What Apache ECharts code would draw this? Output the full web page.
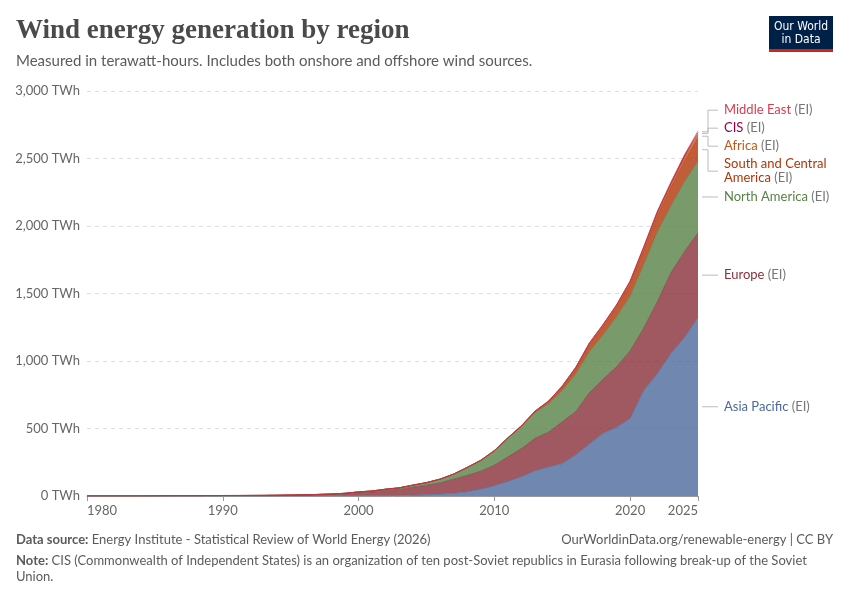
<!DOCTYPE html>
<html>
<head>
<meta charset="utf-8">
<title>Wind energy generation by region</title>
<script src="https://cdn.jsdelivr.net/npm/echarts@6.0.0/dist/echarts.min.js"></script>
<style>
  html, body { margin: 0; padding: 0; background: #fff; }
  #chart { width: 850px; height: 600px; }
</style>
</head>
<body>
<div id="chart"></div>
<script>
// years 1980 - 2025
const years = [];
for (let y = 1980; y <= 2025; y++) years.push(String(y));

// TWh
const asiaPacific = [
  0, 0, 0, 0, 0, 0, 0, 0, 0, 0,
  0.02, 0.03, 0.05, 0.1, 0.2, 0.4, 0.7, 1.0, 1.5, 1.9,
  2.6, 3.2, 3.8, 4.6, 6.5, 9, 14, 20, 32, 50,
  76, 108, 143, 187, 215, 240, 305, 385, 464, 509,
  575, 781, 907, 1055, 1175, 1322
];
const europe = [
  0.01, 0.01, 0.02, 0.03, 0.06, 0.1, 0.2, 0.3, 0.4, 0.6,
  0.8, 1.0, 1.3, 1.7, 2.4, 3.9, 5.0, 7.3, 10.5, 13.5,
  22, 27, 36, 44, 59, 71, 82, 105, 120, 134,
  152, 182, 208, 240, 258, 310, 320, 380, 400, 448,
  500, 462, 532, 598, 635, 628
];
const northAmerica = [
  0, 0.01, 0.02, 0.05, 0.2, 0.6, 1.4, 1.7, 1.8, 2.1,
  2.8, 2.9, 2.9, 3.0, 3.4, 3.2, 3.4, 3.3, 3.0, 4.6,
  5.7, 6.8, 10.5, 11.6, 14.6, 18.5, 28, 36, 58, 78,
  104, 136, 162, 190, 211, 230, 279, 304, 328, 370,
  405, 470, 515, 495, 518, 530
];
const southCentralAmerica = [
  0, 0, 0, 0, 0, 0, 0, 0, 0, 0,
  0, 0, 0, 0, 0.01, 0.01, 0.02, 0.03, 0.04, 0.05,
  0.1, 0.1, 0.1, 0.2, 0.2, 0.3, 0.5, 0.8, 1.1, 1.5,
  2.6, 3.4, 6, 8.5, 15, 27, 40, 52, 63, 71,
  90, 105, 120, 135, 152, 170
];
const africa = [
  0, 0, 0, 0, 0, 0, 0, 0, 0, 0,
  0, 0, 0, 0, 0, 0, 0, 0.01, 0.02, 0.05,
  0.2, 0.3, 0.4, 0.5, 0.6, 0.7, 0.8, 1.0, 1.2, 1.6,
  2.1, 2.3, 2.5, 3.0, 4.5, 7, 9, 11, 13, 16,
  19, 21, 24, 26, 28, 30
];
const cis = [
  0, 0, 0, 0, 0, 0, 0, 0, 0, 0,
  0, 0, 0, 0, 0, 0, 0, 0, 0, 0,
  0, 0, 0, 0, 0, 0.01, 0.01, 0.01, 0.01, 0.01,
  0.01, 0.01, 0.01, 0.01, 0.02, 0.1, 0.1, 0.2, 0.3, 0.5,
  1.5, 4, 6, 8, 10, 12
];
const middleEast = [
  0, 0, 0, 0, 0, 0, 0, 0, 0, 0,
  0, 0, 0, 0, 0, 0, 0, 0, 0, 0,
  0.02, 0.02, 0.03, 0.03, 0.04, 0.05, 0.05, 0.06, 0.08, 0.1,
  0.1, 0.1, 0.2, 0.2, 0.3, 0.5, 0.6, 0.7, 1.0, 1.5,
  2.5, 3.5, 5, 7, 9, 12
];

const yTicks = [0, 500, 1000, 1500, 2000, 2500, 3000];
const xTickYears = ['1980', '1990', '2000', '2010', '2020', '2025'];

// bottom of the stack first
const regions = [
  { name: 'Asia Pacific', label: 'Asia Pacific', data: asiaPacific, color: '#4C6A9C' },
  { name: 'Europe', label: 'Europe', data: europe, color: '#883039' },
  { name: 'North America', label: 'North America', data: northAmerica, color: '#578145' },
  { name: 'South and Central America', label: 'South and Central\nAmerica', data: southCentralAmerica, color: '#B13507' },
  { name: 'Africa', label: 'Africa', data: africa, color: '#C05917' },
  { name: 'CIS', label: 'CIS', data: cis, color: '#970046' },
  { name: 'Middle East', label: 'Middle East', data: middleEast, color: '#D73C50' }
];

const FONT = 'Lato, "Noto Sans", sans-serif';
const chart = echarts.init(document.getElementById('chart'), null, { renderer: 'canvas' });

const gridLeft = 87, gridRight = 152, gridTop = 91, gridBottom = 104;
const isTickYear = (i, v) => xTickYears.indexOf(String(v)) >= 0;

const option = {
  animation: false,
  backgroundColor: '#fff',
  grid: { left: gridLeft, right: gridRight, top: gridTop, bottom: gridBottom, containLabel: false },
  xAxis: {
    type: 'category',
    data: years,
    boundaryGap: false,
    axisLine: { show: true, lineStyle: { color: '#999', width: 1 } },
    axisTick: { show: true, interval: isTickYear, length: 5, lineStyle: { color: '#999' } },
    axisLabel: {
      interval: isTickYear,
      color: '#666',
      fontFamily: FONT,
      fontSize: 13,
      margin: 8,
      alignMinLabel: 'left',
      alignMaxLabel: 'right'
    },
    splitLine: { show: false }
  },
  yAxis: {
    type: 'value',
    min: yTicks[0],
    max: yTicks[yTicks.length - 1],
    interval: 500,
    axisLine: { show: false },
    axisTick: { show: false },
    axisLabel: {
      color: '#666',
      fontFamily: FONT,
      fontSize: 13,
      margin: 7,
      formatter: v => v.toLocaleString('en-US') + ' TWh'
    },
    splitLine: { show: true, lineStyle: { color: '#dddddd', type: [4, 4], width: 1 } }
  },
  series: regions.map(r => ({
    name: r.name,
    type: 'line',
    stack: 'total',
    data: r.data,
    showSymbol: false,
    symbol: 'none',
    lineStyle: { width: 0.6, color: r.color },
    areaStyle: { color: r.color, opacity: 0.8 },
    emphasis: { disabled: true },
    z: 2
  })),
  graphic: [
    {
      type: 'text', x: 16, y: 31,
      style: {
        text: 'Wind energy generation by region',
        fill: '#4a4a4a',
        font: 'bold 27px "Liberation Serif", "DejaVu Serif", serif',
        verticalAlign: 'middle'
      }
    },
    {
      type: 'text', x: 16, y: 61,
      style: {
        text: 'Measured in terawatt-hours. Includes both onshore and offshore wind sources.',
        fill: '#5b5b5b',
        font: '15px ' + FONT,
        verticalAlign: 'middle'
      }
    },
    // logo
    { type: 'rect', shape: { x: 769, y: 16, width: 64, height: 36 }, style: { fill: '#002147' } },
    { type: 'rect', shape: { x: 769, y: 49, width: 64, height: 3 }, style: { fill: '#ce261e' } },
    {
      type: 'text', x: 801, y: 27,
      style: { text: 'Our World', fill: '#fff', font: '12px "Liberation Sans Narrow", "DejaVu Sans Condensed", ' + FONT, align: 'center', verticalAlign: 'middle' }
    },
    {
      type: 'text', x: 801, y: 40,
      style: { text: 'in Data', fill: '#fff', font: '12px "Liberation Sans Narrow", "DejaVu Sans Condensed", ' + FONT, align: 'center', verticalAlign: 'middle' }
    },
    // footer
    {
      type: 'text', x: 16, y: 540,
      style: {
        text: '{b|Data source:} {r|Energy Institute - Statistical Review of World Energy (2026)}',
        verticalAlign: 'middle',
        rich: {
          b: { fontFamily: FONT, fontSize: 13, fontWeight: 'bold', fill: '#5b5b5b' },
          r: { fontFamily: FONT, fontSize: 13, fill: '#5b5b5b' }
        }
      }
    },
    {
      type: 'text', x: 833, y: 540,
      style: {
        text: 'OurWorldinData.org/renewable-energy | CC BY',
        fill: '#5b5b5b', font: '13px ' + FONT, align: 'right', verticalAlign: 'middle'
      }
    },
    {
      type: 'text', x: 16, y: 561,
      style: {
        text: '{b|Note:} {r|CIS (Commonwealth of Independent States) is an organization of ten post-Soviet republics in Eurasia following break-up of the Soviet}',
        verticalAlign: 'middle',
        rich: {
          b: { fontFamily: FONT, fontSize: 13, fontWeight: 'bold', fill: '#5b5b5b' },
          r: { fontFamily: FONT, fontSize: 13, fill: '#5b5b5b' }
        }
      }
    },
    {
      type: 'text', x: 16, y: 577,
      style: { text: 'Union.', fill: '#5b5b5b', font: '13px ' + FONT, verticalAlign: 'middle' }
    }
  ]
};

chart.setOption(option);

// right-hand labels, placed at the middle of each band at the last year
function placeLabels() {
  const last = years.length - 1;
  const lineH = 14, gap = 4, groupShift = 4;
  let cum = 0;
  const items = regions.map(r => {
    const v = r.data[last];
    const mid = cum + v / 2;
    cum += v;
    const py = chart.convertToPixel({ gridIndex: 0 }, [last, mid])[1];
    const lines = r.label.split('\n').length;
    return { r, target: py, h: lines * lineH, lines };
  }).sort((a, b) => a.target - b.target);

  // merge overlapping labels into groups centred on their targets
  let groups = items.map(it => ({ items: [it] }));
  const layoutGroup = g => {
    const totalH = g.items.reduce((s, it) => s + it.h, 0) + gap * (g.items.length - 1);
    const wsum = g.items.reduce((s, it) => s + it.target * it.h, 0);
    const hsum = g.items.reduce((s, it) => s + it.h, 0);
    const shift = g.items.length > 1 ? groupShift : 0;
    g.top = wsum / hsum - totalH / 2 + shift;
    g.bottom = g.top + totalH;
  };
  groups.forEach(layoutGroup);
  let merged = true;
  while (merged) {
    merged = false;
    for (let i = 0; i < groups.length - 1; i++) {
      if (groups[i].bottom + gap > groups[i + 1].top) {
        groups[i].items = groups[i].items.concat(groups[i + 1].items);
        groups.splice(i + 1, 1);
        layoutGroup(groups[i]);
        merged = true;
        break;
      }
    }
  }

  const plotRight = 850 - gridRight;
  const textX = plotRight + 26;
  const elems = [];
  groups.forEach(g => {
    let y = g.top;
    g.items.forEach(it => {
      const centre = y + it.h / 2;
      const firstLineY = y + lineH / 2;
      const parts = it.r.label.split('\n');
      const txt = parts.map((p, k) =>
        k === parts.length - 1 ? '{n|' + p + '} {g|(EI)}' : '{n|' + p + '}'
      ).join('\n');
      elems.push({
        type: 'text', x: textX, y: y,
        style: {
          text: txt,
          verticalAlign: 'top',
          lineHeight: lineH,
          rich: {
            n: { fontFamily: FONT, fontSize: 13, fill: it.r.color, lineHeight: lineH },
            g: { fontFamily: FONT, fontSize: 13, fill: '#777', lineHeight: lineH }
          }
        }
      });
      const ly = it.lines > 1 ? centre : firstLineY;
      const moved = Math.abs(ly - it.target) > 1.5;
      const pts = moved
        ? [[plotRight + 4, it.target], [plotRight + 10, it.target], [plotRight + 10, ly], [textX - 6, ly]]
        : [[plotRight + 4, ly], [textX - 6, ly]];
      elems.push({
        type: 'polyline',
        shape: { points: pts },
        style: { stroke: '#bbb', lineWidth: 1, fill: null }
      });
      y += it.h + gap;
    });
  });

  chart.setOption({ graphic: option.graphic.concat(elems) }, { replaceMerge: ['graphic'] });
}

placeLabels();
</script>
</body>
</html>
